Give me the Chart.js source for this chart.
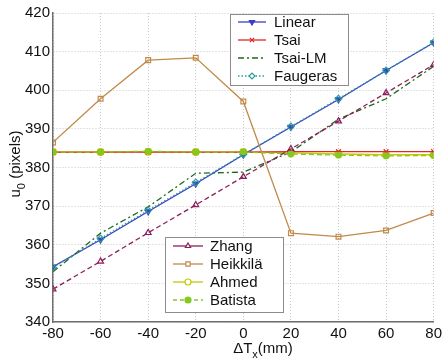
<!DOCTYPE html>
<html>
<head>
<meta charset="utf-8">
<script src="https://cdn.jsdelivr.net/npm/chart.js@4"></script>
<style>
  body { margin: 0; background: #fff; }
  #wrap { width: 445px; height: 360px; }
</style>
</head>
<body>
<div id="wrap"><canvas id="chart" width="445" height="360"></canvas></div>
<script>
/* --- Data --- */
const dTx = [-80, -60, -40, -20, 0, 20, 40, 60, 80];

const linear   = [354.3, 361.3, 368.6, 375.8, 383.3, 390.5, 397.6, 405.1, 412.3];
const tsai     = [384.0, 384.0, 384.0, 384.0, 384.0, 384.1, 384.1, 384.1, 384.1];
const tsaiLM   = [353.0, 363.0, 369.8, 378.5, 378.8, 384.0, 392.5, 397.8, 406.2];
const faugeras = [354.1, 361.6, 368.9, 376.1, 383.4, 390.6, 397.8, 405.1, 412.4];
const zhang    = [348.5, 355.7, 363.1, 370.3, 377.6, 384.8, 392.0, 399.3, 406.6];
const heikkila = [386.5, 397.8, 407.8, 408.4, 397.1, 363.0, 362.1, 363.7, 368.2];
const ahmed    = [384.0, 384.0, 384.1, 384.0, 384.0, 383.8, 383.5, 383.3, 383.3];
const batista  = [384.0, 384.0, 384.2, 384.0, 384.0, 383.5, 383.2, 383.0, 383.1];

const yTicks = [340, 350, 360, 370, 380, 390, 400, 410, 420];

const FONT = '"Liberation Sans", Arial, sans-serif';

/* --- Series styles (legendDash: how the key line looks) --- */
const series = [
    { label: 'Linear',   data: linear,   color: '#3c3cc4', dash: [],           legendDash: [],           style: 'triangle', rot: 180, fill: true,  z: 2 },
    { label: 'Tsai',     data: tsai,     color: '#e02828', dash: [],           legendDash: [],           style: 'crossRot', rot: 0,   fill: false, z: 2 },
    { label: 'Tsai-LM',  data: tsaiLM,   color: '#1e6a1e', dash: [6, 3, 2, 3], legendDash: [6, 3, 2, 3], style: false,      rot: 0,   fill: false, z: 3 },
    { label: 'Faugeras', data: faugeras, color: '#2a9e9e', dash: [1.5, 2],     legendDash: [1.5, 2],     style: 'rectRot',  rot: 0,   fill: false, z: 4 },
    { label: 'Zhang',    data: zhang,    color: '#8c1e5a', dash: [5, 3],       legendDash: [],           style: 'triangle', rot: 0,   fill: false, z: 5 },
    { label: 'Heikkilä', data: heikkila, color: '#c08a4a', dash: [],           legendDash: [],           style: 'rect',     rot: 0,   fill: false, z: 6 },
    { label: 'Ahmed',    data: ahmed,    color: '#c8c800', dash: [],           legendDash: [],           style: 'circle',   rot: 0,   fill: false, z: 1 },
    { label: 'Batista',  data: batista,  color: '#86c822', dash: [5, 3],       legendDash: [4, 3],       style: 'circle',   rot: 0,   fill: true,  z: 7 }
];

const datasets = series.map((s) => ({
    label: s.label,
    data: s.data.map((v, k) => ({ x: dTx[k], y: v })),
    borderColor: s.color,
    backgroundColor: s.fill ? s.color : 'rgba(0,0,0,0)',
    borderWidth: 1.3,
    borderDash: s.dash,
    pointStyle: s.style,
    pointRotation: s.rot,
    pointRadius: s.style ? (s.fill && s.style === 'circle' ? 2.8 : 3.4) : 0,
    pointBorderColor: s.color,
    pointBackgroundColor: s.fill ? s.color : 'rgba(0,0,0,0)',
    pointBorderWidth: 1.2,
    tension: 0,
    order: 10 - s.z
}));

/* --- Legends and axis titles drawn into the plot --- */
function drawLegend(ctx, items, box, rowY, lineX0, lineX1, textX) {
    ctx.save();
    ctx.fillStyle = '#fff';
    ctx.fillRect(box.x, box.y, box.w, box.h);
    ctx.strokeStyle = '#8c8c8c';
    ctx.lineWidth = 1;
    ctx.strokeRect(box.x + 0.5, box.y + 0.5, box.w, box.h);
    items.forEach((s, i) => {
        const y = rowY[i];
        ctx.strokeStyle = s.color;
        ctx.lineWidth = 1.3;
        ctx.setLineDash(s.legendDash);
        ctx.beginPath();
        ctx.moveTo(lineX0, y);
        ctx.lineTo(lineX1, y);
        ctx.stroke();
        ctx.setLineDash([]);
        if (s.style) {
            ctx.fillStyle = s.fill ? s.color : '#fff';
            ctx.lineWidth = 1.2;
            Chart.helpers.drawPoint(ctx, {
                pointStyle: s.style, rotation: s.rot, radius: 3, borderWidth: 1.2
            }, (lineX0 + lineX1) / 2, y);
        }
        ctx.fillStyle = '#111';
        ctx.font = '15px ' + FONT;
        ctx.textBaseline = 'middle';
        ctx.textAlign = 'left';
        ctx.fillText(s.label, textX, y + 1);
    });
    ctx.restore();
}

const overlayPlugin = {
    id: 'overlay',
    afterDraw(chart) {
        const ctx = chart.ctx;

        drawLegend(ctx, series.slice(0, 4), { x: 230, y: 14, w: 118, h: 71 },
            [22, 40, 58, 76], 238, 266, 274);
        drawLegend(ctx, series.slice(4), { x: 165, y: 237, w: 118, h: 75 },
            [246, 264, 282, 300], 173, 203, 210);

        // y axis title: u0 (pixels)
        ctx.save();
        ctx.fillStyle = '#111';
        ctx.textBaseline = 'alphabetic';
        ctx.textAlign = 'left';
        const big = '15px ' + FONT, small = '11px ' + FONT;
        ctx.font = big;
        const wU = ctx.measureText('u').width;
        const wRest = ctx.measureText(' (pixels)').width;
        ctx.font = small;
        const wSub = ctx.measureText('0').width;
        const total = wU + wSub + wRest;
        ctx.translate(20, 164);
        ctx.rotate(-Math.PI / 2);
        let x = -total / 2;
        ctx.font = big;
        ctx.fillText('u', x, 0);
        x += wU;
        ctx.font = small;
        ctx.fillText('0', x, 5);
        x += wSub;
        ctx.font = big;
        ctx.fillText(' (pixels)', x, 0);
        ctx.restore();

        // x axis title: ΔTx(mm)
        ctx.save();
        ctx.fillStyle = '#111';
        ctx.textBaseline = 'alphabetic';
        ctx.textAlign = 'left';
        ctx.font = big;
        const wD = ctx.measureText('\u0394T').width;
        const wMm = ctx.measureText('(mm)').width;
        ctx.font = small;
        const wX = ctx.measureText('x').width;
        let xx = 263 - (wD + wX + wMm) / 2;
        const base = 353;
        ctx.font = big;
        ctx.fillText('\u0394T', xx, base);
        xx += wD;
        ctx.font = small;
        ctx.fillText('x', xx, base + 5);
        xx += wX;
        ctx.font = big;
        ctx.fillText('(mm)', xx, base);
        ctx.restore();
    }
};

new Chart(document.getElementById('chart').getContext('2d'), {
    type: 'line',
    data: { datasets: datasets },
    options: {
        responsive: false,
        animation: false,
        layout: { padding: { top: 13, right: 8, left: 0, bottom: 0 } },
        plugins: {
            legend: { display: false },
            tooltip: { enabled: false }
        },
        scales: {
            x: {
                type: 'linear',
                min: -80,
                max: 80,
                afterFit: (scale) => { scale.height = 38; },
                afterBuildTicks: (scale) => { scale.ticks = dTx.map(v => ({ value: v })); },
                ticks: {
                    color: '#111',
                    font: { family: FONT, size: 15 },
                    padding: 3,
                    maxRotation: 0,
                    autoSkip: false
                },
                grid: { color: '#c8c8c8', drawTicks: false, lineWidth: 1 },
                border: { color: '#6e6e6e', width: 1.5, dash: [1, 2] }
            },
            y: {
                min: 340,
                max: 420,
                afterFit: (scale) => { scale.width = 53; },
                afterBuildTicks: (scale) => { scale.ticks = yTicks.map(v => ({ value: v })); },
                ticks: {
                    color: '#111',
                    font: { family: FONT, size: 15 },
                    padding: 3,
                    autoSkip: false
                },
                grid: { color: '#c8c8c8', drawTicks: false, lineWidth: 1 },
                border: { color: '#6e6e6e', width: 1.5, dash: [1, 2] }
            }
        }
    },
    plugins: [overlayPlugin]
});
</script>
</body>
</html>
